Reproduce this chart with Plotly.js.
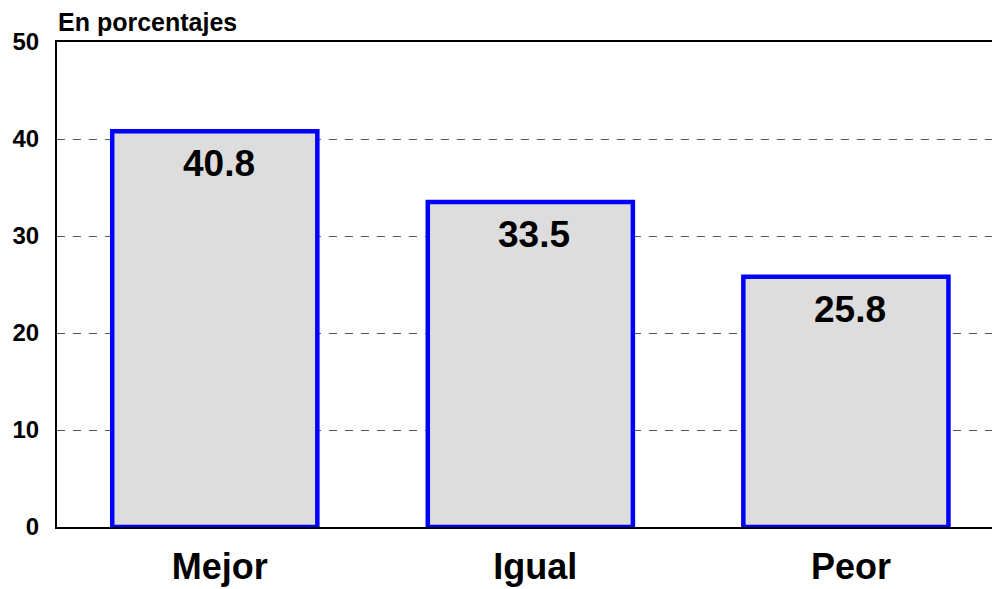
<!DOCTYPE html>
<html>
<head>
<meta charset="utf-8">
<script src="https://cdn.plot.ly/plotly-3.0.1.min.js"></script>
<style>html,body{margin:0;padding:0;background:#fff;}#chart{width:992px;height:589px;}</style>
</head>
<body>
<div id="chart"></div>
<script>
const categories = ["Mejor", "Igual", "Peor"];
const values = [40.8, 33.5, 25.8];
const valueLabels = ["40.8", "33.5", "25.8"];
const yTicks = [0, 10, 20, 30, 40, 50];
const unitLabel = "En porcentajes";

const FONT = "Liberation Sans, Arial, sans-serif";

const trace = {
  type: "bar",
  x: categories,
  y: values,
  width: 0.65,
  marker: { color: "#dddddd", line: { color: "#0000ff", width: 4.5 } },
  hoverinfo: "none"
};

const annotations = categories.map((c, i) => ({
  x: c, y: values[i], xref: "x", yref: "y",
  text: "<b>" + valueLabels[i] + "</b>",
  showarrow: false, yanchor: "top", yshift: -10, xshift: 4,
  font: { family: FONT, size: 37, color: "#000" }
}));
annotations.push({
  xref: "paper", yref: "paper", x: 0, y: 1, xanchor: "left", yanchor: "bottom",
  xshift: -1, yshift: 4,
  text: "<b>" + unitLabel + "</b>", showarrow: false,
  font: { family: FONT, size: 25, color: "#000" }
});

const layout = {
  width: 992, height: 589,
  margin: { l: 57, r: 0, t: 42, b: 62, pad: 0 },
  paper_bgcolor: "#fff", plot_bgcolor: "#fff",
  showlegend: false,
  xaxis: {
    type: "category",
    range: [-0.5, 2.463],
    showgrid: false, zeroline: false,
    showline: true, linecolor: "#000", linewidth: 2, mirror: true,
    ticks: "", ticklabelstandoff: 7, ticklabelshift: 5,
    tickfont: { family: FONT, size: 36, color: "#000", weight: "bold" }
  },
  yaxis: {
    range: [0, 50],
    tickvals: yTicks,
    ticktext: yTicks.map(String),
    showgrid: true, gridcolor: "#555", gridwidth: 1, griddash: "8px,8px",
    zeroline: false,
    showline: true, linecolor: "#000", linewidth: 2,
    ticks: "", ticklabelstandoff: 11,
    tickfont: { family: FONT, size: 24, color: "#000", weight: "bold" }
  },
  annotations: annotations
};

Plotly.newPlot("chart", [trace], layout, { staticPlot: true, displayModeBar: false });
</script>
</body>
</html>
